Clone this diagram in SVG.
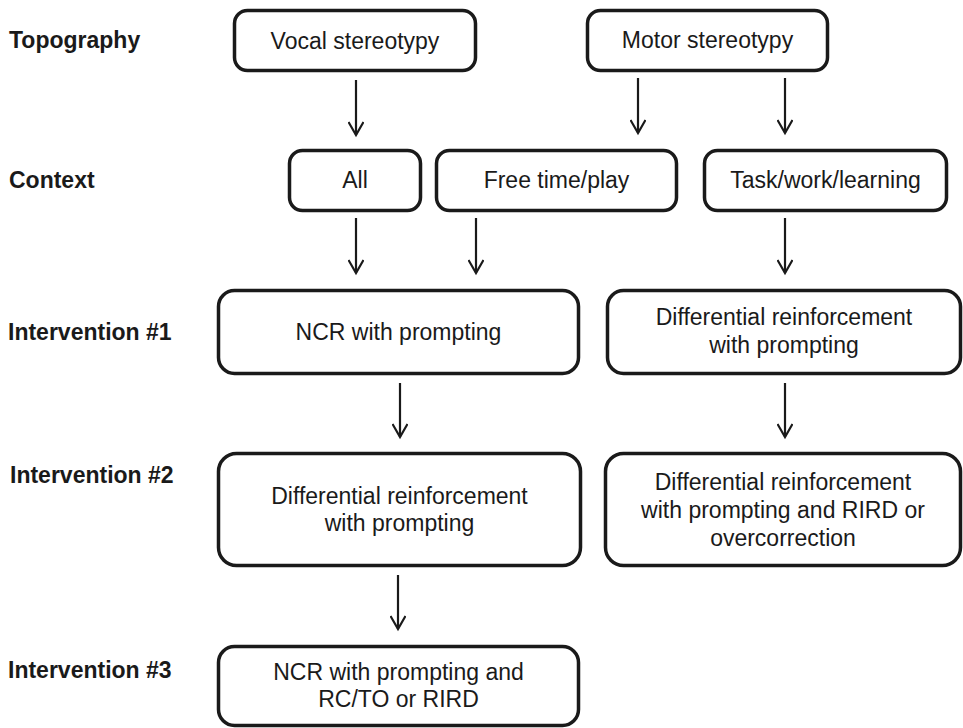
<svg xmlns="http://www.w3.org/2000/svg" width="963" height="728" viewBox="0 0 963 728">
<defs>
<style>
.box{fill:#fff;stroke:#1a1a1a;stroke-width:3.5}
.t{font-family:"Liberation Sans",Arial,sans-serif;font-size:23px;fill:#1a1a1a;text-anchor:middle}
.lbl{font-family:"Liberation Sans",Arial,sans-serif;font-size:23px;font-weight:bold;fill:#1a1a1a}
.ar{stroke:#1a1a1a;stroke-width:2.2;fill:none}
</style>
<marker id="ah" viewBox="0 0 20 16" refX="16" refY="8" markerWidth="20" markerHeight="16" markerUnits="userSpaceOnUse" orient="auto">
<path d="M3,0.5 L16,8 L3,15.5" fill="none" stroke="#1a1a1a" stroke-width="2.2"/>
</marker>
</defs>
<rect width="963" height="728" fill="#fff"/>
<g id="labels">
<text class="lbl" x="9" y="48">Topography</text>
<text class="lbl" x="9" y="188">Context</text>
<text class="lbl" x="8" y="340">Intervention #1</text>
<text class="lbl" x="10" y="483">Intervention #2</text>
<text class="lbl" x="8" y="678">Intervention #3</text>
</g>
<g id="n-vocal"><rect class="box" x="234.5" y="10.5" width="241" height="60" rx="13"/><text class="t" x="355" y="49">Vocal stereotypy</text></g>
<g id="n-motor"><rect class="box" x="587.5" y="10.5" width="240" height="60" rx="13"/><text class="t" x="707.5" y="48">Motor stereotypy</text></g>
<g id="n-all"><rect class="box" x="289.5" y="150.5" width="131" height="60" rx="13"/><text class="t" x="355" y="188">All</text></g>
<g id="n-free"><rect class="box" x="436.5" y="150.5" width="240" height="60" rx="13"/><text class="t" x="556.5" y="188">Free time/play</text></g>
<g id="n-task"><rect class="box" x="704.5" y="150.5" width="242" height="60" rx="13"/><text class="t" x="825.5" y="188">Task/work/learning</text></g>
<g id="n-ncr1"><rect class="box" x="218.5" y="290.5" width="360" height="83" rx="16"/><text class="t" x="398.5" y="340">NCR with prompting</text></g>
<g id="n-dr1"><rect class="box" x="607.5" y="290.5" width="353" height="83" rx="16"/><text class="t" x="784" y="325">Differential reinforcement</text><text class="t" x="784" y="353">with prompting</text></g>
<g id="n-dr2"><rect class="box" x="218.5" y="453.5" width="362" height="112" rx="18"/><text class="t" x="399.5" y="504">Differential reinforcement</text><text class="t" x="399.5" y="531">with prompting</text></g>
<g id="n-dr3"><rect class="box" x="605.5" y="453.5" width="355" height="112" rx="18"/><text class="t" x="783" y="490">Differential reinforcement</text><text class="t" x="783" y="518">with prompting and RIRD or</text><text class="t" x="783" y="546">overcorrection</text></g>
<g id="n-ncr3"><rect class="box" x="218.5" y="646.5" width="360" height="79" rx="16"/><text class="t" x="398.5" y="680">NCR with prompting and</text><text class="t" x="398.5" y="707">RC/TO or RIRD</text></g>
<g id="connectors">
<line class="ar" x1="356" y1="80" x2="356" y2="135" marker-end="url(#ah)"/>
<line class="ar" x1="638" y1="78" x2="638" y2="133" marker-end="url(#ah)"/>
<line class="ar" x1="785" y1="78" x2="785" y2="133" marker-end="url(#ah)"/>
<line class="ar" x1="356" y1="218" x2="356" y2="273" marker-end="url(#ah)"/>
<line class="ar" x1="476" y1="218" x2="476" y2="273" marker-end="url(#ah)"/>
<line class="ar" x1="785" y1="218" x2="785" y2="273" marker-end="url(#ah)"/>
<line class="ar" x1="400" y1="383" x2="400" y2="437" marker-end="url(#ah)"/>
<line class="ar" x1="785" y1="383" x2="785" y2="437" marker-end="url(#ah)"/>
<line class="ar" x1="398" y1="575" x2="398" y2="629" marker-end="url(#ah)"/>
</g>
</svg>
